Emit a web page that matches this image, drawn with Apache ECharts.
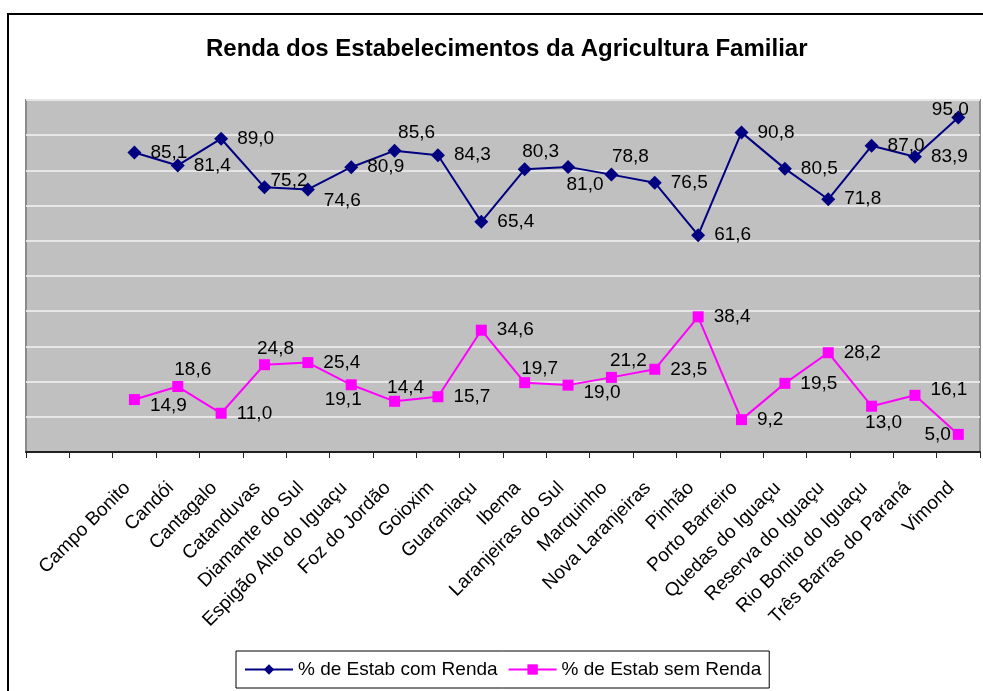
<!DOCTYPE html>
<html>
<head>
<meta charset="utf-8">
<title>Renda dos Estabelecimentos da Agricultura Familiar</title>
<script src="https://cdn.jsdelivr.net/npm/echarts@6/dist/echarts.min.js"></script>
<style>
  html, body { margin: 0; padding: 0; background: #fff; }
  #chart { width: 983px; height: 691px; }
</style>
</head>
<body>
<div id="chart"></div>
<script>
// two leading blank categories, as in the original sheet
const categories = [
  "", "",
  "Campo Bonito", "Candói", "Cantagalo", "Catanduvas", "Diamante do Sul",
  "Espigão Alto do Iguaçu", "Foz do Jordão", "Goioxim", "Guaraniaçu", "Ibema",
  "Laranjeiras do Sul", "Marquinho", "Nova Laranjeiras", "Pinhão", "Porto Barreiro",
  "Quedas do Iguaçu", "Reserva do Iguaçu", "Rio Bonito do Iguaçu",
  "Três Barras do Paraná", "Vimond",
];

const comRenda = [
  "-", "-",
  85.1, 81.4, 89.0, 75.2, 74.6, 80.9, 85.6, 84.3, 65.4, 80.3,
  81.0, 78.8, 76.5, 61.6, 90.8, 80.5, 71.8, 87.0, 83.9, 95.0,
];

const semRenda = [
  "-", "-",
  14.9, 18.6, 11.0, 24.8, 25.4, 19.1, 14.4, 15.7, 34.6, 19.7,
  19.0, 21.2, 23.5, 38.4, 9.2, 19.5, 28.2, 13.0, 16.1, 5.0,
];

const yTicks = [0, 10, 20, 30, 40, 50, 60, 70, 80, 90, 100];

// label placement tweaks (style only), keyed by category
const comLabelPos = {
  "Catanduvas": { position: "right", offset: [-10, -7] },
  "Diamante do Sul": { position: "right", offset: [0, 11] },
  "Foz do Jordão": { position: "top", distance: 2, offset: [22, 1] },
  "Ibema": { position: "top", distance: 2, offset: [16, 1] },
  "Laranjeiras do Sul": { position: "bottom", distance: 2, offset: [17, -1] },
  "Marquinho": { position: "top", distance: 2, offset: [19, 1] },
  "Vimond": { position: "top", distance: 2, offset: [-8, 11] },
};
const semLabelPos = {
  "Campo Bonito": { position: "right", offset: [0, 6] },
  "Candói": { position: "top", distance: 2, offset: [15, 0] },
  "Catanduvas": { position: "top", distance: 2, offset: [11, 1] },
  "Espigão Alto do Iguaçu": { position: "bottom", distance: 2, offset: [-8, -2] },
  "Foz do Jordão": { position: "top", distance: 2, offset: [11, 3] },
  "Ibema": { position: "top", distance: 2, offset: [15, 3] },
  "Laranjeiras do Sul": { position: "right", offset: [0, 8] },
  "Marquinho": { position: "top", distance: 2, offset: [17, 0] },
  "Rio Bonito do Iguaçu": { position: "bottom", distance: 2, offset: [12, 0] },
  "Três Barras do Paraná": { position: "right", offset: [0, -6] },
  "Vimond": { position: "left", distance: 2, offset: [0, 0] },
};

const FONT = "'Liberation Sans', Arial, sans-serif";

function fmt(value) {
  return Number(value).toFixed(1).replace(".", ",");
}

function buildData(values, tweaks) {
  return values.map((v, i) => {
    const t = tweaks[categories[i]];
    if (!t || v === "-") {
      return v;
    }
    const label = { position: t.position, offset: t.offset };
    if (t.distance !== undefined) {
      label.distance = t.distance;
    }
    return { value: v, label };
  });
}

const chart = echarts.init(document.getElementById("chart"), null, { renderer: "canvas" });

chart.setOption({
  animation: false,
  backgroundColor: "#ffffff",
  textStyle: { fontFamily: FONT },
  graphic: [
    {
      type: "rect",
      z: 0,
      shape: { x: 8, y: 14, width: 1000, height: 720 },
      style: { fill: "none", stroke: "#000000", lineWidth: 2 },
    },
  ],
  title: {
    text: "Renda dos Estabelecimentos da Agricultura Familiar",
    left: 206,
    top: 37,
    padding: 0,
    textStyle: {
      fontFamily: FONT,
      fontSize: 24,
      fontWeight: "bold",
      color: "#000000",
    },
  },
  legend: {
    left: 236,
    top: 651,
    padding: [9, 8, 9, 8],
    itemGap: 10,
    itemWidth: 48,
    itemHeight: 13,
    borderColor: "#000000",
    borderWidth: 1,
    borderRadius: 0,
    textStyle: { fontFamily: FONT, fontSize: 19, color: "#000000" },
    data: ["% de Estab com Renda", "% de Estab sem Renda"],
  },
  grid: {
    show: true,
    left: 26,
    right: 3,
    top: 100,
    bottom: 239,
    backgroundColor: "#c0c0c0",
    borderColor: "#8a8a8a",
    borderWidth: 2,
  },
  xAxis: {
    type: "category",
    data: categories,
    boundaryGap: true,
    axisLine: { lineStyle: { color: "#222222", width: 2 } },
    axisTick: { show: true, length: 6, alignWithLabel: false, lineStyle: { color: "#222222", width: 1 } },
    axisLabel: {
      interval: 0,
      rotate: 45,
      margin: 26,
      padding: [0, 10, 0, 0],
      fontFamily: FONT,
      fontSize: 19,
      color: "#000000",
    },
  },
  yAxis: {
    type: "value",
    min: yTicks[0],
    max: yTicks[yTicks.length - 1],
    interval: yTicks[1] - yTicks[0],
    axisLine: { show: false },
    axisTick: { show: false },
    axisLabel: { show: false },
    splitLine: { lineStyle: { color: "#e6e6e6", width: 2 } },
  },
  series: [
    {
      name: "% de Estab com Renda",
      type: "line",
      data: buildData(comRenda, comLabelPos),
      symbol: "diamond",
      symbolSize: 14,
      color: "#000080",
      lineStyle: { color: "#000080", width: 2 },
      itemStyle: { color: "#000080" },
      label: {
        show: true,
        position: "right",
        distance: 9,
        fontFamily: FONT,
        fontSize: 19,
        color: "#000000",
        formatter: (p) => fmt(p.value),
      },
    },
    {
      name: "% de Estab sem Renda",
      type: "line",
      data: buildData(semRenda, semLabelPos),
      symbol: "rect",
      symbolSize: 11,
      color: "#ff00ff",
      lineStyle: { color: "#ff00ff", width: 2 },
      itemStyle: { color: "#ff00ff" },
      label: {
        show: true,
        position: "right",
        distance: 10,
        fontFamily: FONT,
        fontSize: 19,
        color: "#000000",
        formatter: (p) => fmt(p.value),
      },
    },
  ],
});
</script>
</body>
</html>
